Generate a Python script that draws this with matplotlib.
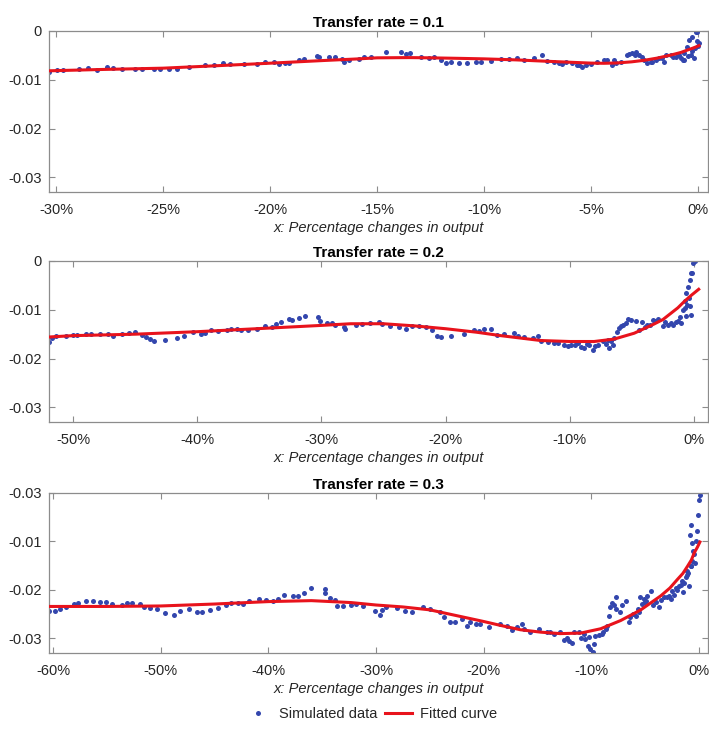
import matplotlib
matplotlib.use("Agg")
import matplotlib.pyplot as plt
from matplotlib.ticker import FuncFormatter

plt.rcParams['font.family'] = ['Liberation Sans', 'DejaVu Sans']

# ---------------- data (x in %, y values) ----------------
titles = ["Transfer rate = 0.1", "Transfer rate = 0.2", "Transfer rate = 0.3"]

# Panel 1 simulated data
x1 = [-30.33, -29.97, -29.66, -28.95, -28.49, -28.10, -27.63, -27.32, -26.93, -26.30,
      -25.99, -25.44, -25.13, -24.74, -24.35, -23.81, -23.03, -22.64, -22.20, -21.86,
      -21.23, -20.61, -20.22, -19.83, -19.59, -19.28, -19.13, -18.66, -18.42, -17.80,
      -17.72, -17.25, -16.94, -16.63, -16.55, -16.32, -15.85,
      -15.61, -15.30, -14.60, -13.89, -13.66, -13.46, -12.96, -12.57, -12.34, -12.02,
      -11.79, -11.56, -11.17, -10.78, -10.39, -10.16, -9.69, -9.22, -8.83, -8.44,
      -8.13, -7.66, -7.27, -7.04, -6.73, -6.50, -6.18, -5.87, -5.64, -5.40,
      -5.25, -5.02, -4.70, -4.24, -4.00, -3.85, -3.61, -3.30, -3.07, -2.91,
      -2.76, -2.60, -2.37, -2.13, -1.82, -1.51, -1.28, -1.04, -0.81, -0.65,
      -0.50, -0.42, -0.26, -0.11, -0.03, 0.05, -0.19, -0.34, -0.65, -1.59,
      -2.52, -3.93, -3.20, -2.95, -1.95, -1.70, -1.15, -0.90, -0.30, -0.15,
      -0.05, 0.02, -0.45, -0.70, -2.20, -4.40, -5.55, -6.35]
y1 = [-0.00844, -0.00796, -0.00796, -0.00782, -0.00762, -0.00796, -0.00741, -0.00762, -0.00782, -0.00782,
      -0.00782, -0.00782, -0.00776, -0.00776, -0.00776, -0.00741, -0.00707, -0.00694, -0.00646, -0.00680,
      -0.00680, -0.00673, -0.00639, -0.00639, -0.00680, -0.00660, -0.00646, -0.00592, -0.00571, -0.00503,
      -0.00524, -0.00537, -0.00537, -0.00571, -0.00639, -0.00592, -0.00571,
      -0.00537, -0.00524, -0.00435, -0.00435, -0.00469, -0.00456, -0.00537, -0.00558, -0.00524, -0.00592,
      -0.00646, -0.00626, -0.00646, -0.00660, -0.00626, -0.00626, -0.00605, -0.00578, -0.00578, -0.00558,
      -0.00592, -0.00558, -0.00490, -0.00605, -0.00626, -0.00646, -0.00626, -0.00660, -0.00694, -0.00728,
      -0.00694, -0.00673, -0.00626, -0.00592, -0.00694, -0.00660, -0.00626, -0.00490, -0.00456, -0.00422,
      -0.00490, -0.00524, -0.00660, -0.00626, -0.00558, -0.00490, -0.00490, -0.00524, -0.00558, -0.00456,
      -0.00320, -0.00184, -0.00116, -0.00027, -0.00014, -0.00252, -0.00558, -0.00490, -0.00592, -0.00626,
      -0.00592, -0.00592, -0.00470, -0.00500, -0.00600, -0.00560, -0.00540, -0.00500, -0.00420, -0.00350,
      -0.00200, -0.00300, -0.00520, -0.00600, -0.00640, -0.00600, -0.00700, -0.00680]

# Panel 1 fitted curve
fx1 = [-30.33, -28.0, -25.0, -22.5, -20.0, -17.5, -15.85, -15.0, -13.5, -12.5,
       -11.0, -10.0, -8.5, -7.5, -6.0, -5.0, -4.4, -3.77, -3.1, -2.5,
       -1.9, -1.28, -0.8, -0.5, -0.2, 0.05]
fy1 = [-0.00816, -0.00790, -0.00762, -0.00712, -0.00660, -0.00605, -0.00571, -0.00550, -0.00545, -0.00550,
       -0.00562, -0.00571, -0.00592, -0.00612, -0.00640, -0.00658, -0.00662, -0.00655, -0.00632, -0.00600,
       -0.00555, -0.00495, -0.00440, -0.00392, -0.00345, -0.00300]

# Panel 2 simulated data
x2 = [-51.96, -51.67, -51.40, -50.54, -50.00, -49.68, -48.98, -48.52, -47.85, -47.17,
      -46.82, -46.10, -45.48, -45.02, -44.48, -44.13, -43.81, -43.49, -42.60, -41.66,
      -41.04, -40.36, -39.69, -39.37, -38.91, -38.29, -37.62, -37.27, -36.76, -36.49,
      -35.95, -35.20, -34.52, -33.98, -33.63, -33.23, -32.64, -32.37, -31.83, -31.29,
      -30.30, -30.08, -29.54, -29.14, -28.87, -28.20, -28.12, -27.25,
      -26.73, -26.06, -25.38, -25.11, -24.44, -23.77, -23.23, -22.69, -22.15, -21.61,
      -21.08, -20.73, -20.40, -19.60, -18.52, -17.71, -17.31, -16.90, -16.37, -15.83,
      -15.29, -14.48, -14.21, -13.67, -13.00, -12.60, -12.33, -11.79, -10.98, -10.17,
      -9.91, -9.37, -8.83, -8.43, -8.16, -7.75, -7.35, -6.94, -6.81, -6.54,
      -6.41, -6.00, -5.73, -5.33, -5.06, -4.66, -4.39, -3.98, -3.58, -3.31,
      -2.91, -2.50, -2.10, -1.70, -1.29, -1.02, -0.89, -0.75, -0.62, -0.48,
      -0.35, -0.22, -0.08, 0.05, -0.62, -0.35, -0.22, -0.75, -1.45, -1.85,
      -2.30, -3.10, -3.80, -4.20, -5.50, -5.90, -6.20, -6.70, -7.10, -8.00,
      -8.60, -9.10, -9.60, -10.50, -11.30, -0.55, -0.40, -0.15, -1.15]
y2 = [-0.01660, -0.01578, -0.01530, -0.01530, -0.01510, -0.01524, -0.01490, -0.01490, -0.01490, -0.01490,
      -0.01544, -0.01497, -0.01476, -0.01463, -0.01510, -0.01558, -0.01599, -0.01646, -0.01612, -0.01578,
      -0.01530, -0.01456, -0.01490, -0.01476, -0.01422, -0.01442, -0.01408, -0.01388, -0.01388, -0.01422,
      -0.01408, -0.01388, -0.01340, -0.01354, -0.01286, -0.01252, -0.01190, -0.01218, -0.01170, -0.01136,
      -0.01150, -0.01224, -0.01272, -0.01272, -0.01306, -0.01354, -0.01395, -0.01306,
      -0.01286, -0.01272, -0.01252, -0.01293, -0.01340, -0.01360, -0.01388, -0.01340, -0.01327, -0.01354,
      -0.01408, -0.01530, -0.01558, -0.01530, -0.01490, -0.01408, -0.01442, -0.01388, -0.01395, -0.01510,
      -0.01490, -0.01476, -0.01530, -0.01558, -0.01578, -0.01544, -0.01646, -0.01660, -0.01680, -0.01748,
      -0.01714, -0.01680, -0.01782, -0.01714, -0.01816, -0.01714, -0.01646, -0.01612, -0.01782, -0.01714,
      -0.01578, -0.01374, -0.01306, -0.01190, -0.01204, -0.01238, -0.01408, -0.01354, -0.01306, -0.01204,
      -0.01190, -0.01340, -0.01306, -0.01306, -0.01238, -0.01272, -0.01000, -0.00830, -0.00660, -0.00524,
      -0.00388, -0.00252, -0.00048, 0.00000, -0.01136, -0.00932, -0.01100, -0.00966, -0.01250, -0.01280,
      -0.01260, -0.01230, -0.01320, -0.01250, -0.01280, -0.01330, -0.01450, -0.01650, -0.01700, -0.01750,
      -0.01700, -0.01760, -0.01730, -0.01720, -0.01690, -0.00900, -0.00750, -0.00250, -0.01150]

# Panel 2 fitted curve
fx2 = [-51.96, -50.0, -45.0, -40.0, -35.0, -30.0, -27.65, -25.0, -22.5, -20.0,
       -17.5, -15.56, -13.95, -12.34, -10.0, -8.04, -6.42, -4.81, -3.20, -2.5,
       -1.85, -1.3, -0.78, -0.2, 0.38]
fy2 = [-0.01558, -0.01530, -0.01500, -0.01449, -0.01385, -0.01320, -0.01286, -0.01286, -0.01330, -0.01388,
       -0.01460, -0.01530, -0.01580, -0.01630, -0.01650, -0.01650, -0.01600, -0.01480, -0.01290, -0.01200,
       -0.01070, -0.00960, -0.00830, -0.00700, -0.00580]

# Panel 3 simulated data
x3 = [-60.40, -59.84, -59.38, -58.75, -58.07, -57.66, -56.95, -56.32, -55.64, -55.08,
      -54.55, -53.61, -53.15, -52.68, -51.90, -51.59, -51.03, -50.34, -49.56, -48.79,
      -48.16, -47.38, -46.60, -46.14, -45.45, -44.64, -43.96, -43.49, -42.80, -42.31,
      -41.78, -40.84, -40.22, -39.60, -39.07, -38.50, -37.73, -37.26, -36.64, -36.01,
      -34.77, -34.77, -34.30, -33.83, -33.58, -33.05, -32.33, -31.81,
      -31.22, -30.08, -29.67, -29.46, -29.05, -28.06, -27.29, -26.67, -25.64, -24.96,
      -24.09, -23.72, -23.10, -22.64, -22.02, -21.55, -21.24, -20.68, -20.31, -19.53,
      -18.45, -17.83, -17.36, -16.90, -16.43, -16.28, -15.66, -14.88, -14.11, -13.80,
      -13.49, -12.87, -12.56, -12.09, -11.78, -11.63, -11.16, -10.70, -10.54, -10.33,
      -10.08, -9.86, -9.77, -9.61, -9.30, -8.90, -8.68, -8.37, -8.22, -8.06,
      -7.75, -7.66, -7.35, -7.13, -6.82, -6.51, -6.36, -5.89, -5.67, -5.43,
      -5.27, -5.12, -4.81, -4.50, -4.03, -3.72, -3.26, -2.79, -2.48, -2.17,
      -1.86, -1.55, -1.24, -1.09, -0.93, -0.78, -0.62, -0.47, -0.31, -0.22,
      -0.09, 0.00, 0.09, -0.84, -0.78, -0.62, -0.40, -1.15, -1.46, -2.64,
      -4.96, -0.55, -0.70, -1.00, -1.35, -1.70, -2.00, -2.30, -3.00, -3.50,
      -4.30, -5.00, -5.60, -6.10, -7.90, -8.50, -9.00, -10.20, -11.00, -12.30]
y3 = [-0.0244, -0.0243, -0.0239, -0.0236, -0.0229, -0.0227, -0.0222, -0.0222, -0.0225, -0.0225,
      -0.0229, -0.0230, -0.0226, -0.0227, -0.0229, -0.0236, -0.0237, -0.0239, -0.0248, -0.0251,
      -0.0243, -0.0240, -0.0245, -0.0245, -0.0242, -0.0237, -0.0230, -0.0226, -0.0227, -0.0228,
      -0.0223, -0.0219, -0.0220, -0.0223, -0.0219, -0.0210, -0.0212, -0.0212, -0.0207, -0.0196,
      -0.0198, -0.0207, -0.0217, -0.0221, -0.0234, -0.0234, -0.0230, -0.0228,
      -0.0234, -0.0243, -0.0251, -0.0241, -0.0236, -0.0238, -0.0243, -0.0245, -0.0236, -0.0239,
      -0.0245, -0.0256, -0.0267, -0.0267, -0.0260, -0.0275, -0.0267, -0.0271, -0.0271, -0.0277,
      -0.0271, -0.0275, -0.0282, -0.0277, -0.0271, -0.0280, -0.0287, -0.0281, -0.0287, -0.0287,
      -0.0290, -0.0287, -0.0303, -0.0306, -0.0310, -0.0287, -0.0287, -0.0290, -0.0301, -0.0316,
      -0.0321, -0.0328, -0.0312, -0.0294, -0.0292, -0.0287, -0.0280, -0.0253, -0.0236, -0.0226,
      -0.0239, -0.0215, -0.0246, -0.0232, -0.0222, -0.0267, -0.0256, -0.0253, -0.0239, -0.0215,
      -0.0229, -0.0219, -0.0212, -0.0202, -0.0225, -0.0236, -0.0215, -0.0212, -0.0203, -0.0195,
      -0.0192, -0.0181, -0.0174, -0.0161, -0.0192, -0.0151, -0.0140, -0.0126, -0.0099, -0.0079,
      -0.0045, -0.0014, -0.0004, -0.0086, -0.0067, -0.0103, -0.0144, -0.0169, -0.0205, -0.0219,
      -0.0222, -0.0120, -0.0150, -0.0165, -0.0185, -0.0190, -0.0200, -0.0210, -0.0215, -0.0220,
      -0.0230, -0.0225, -0.0245, -0.0250, -0.0230, -0.0275, -0.0290, -0.0298, -0.0300, -0.0300]

# Panel 3 fitted curve
fx3 = [-60.4, -55.0, -50.0, -45.0, -40.0, -36.0, -32.3, -30.0, -27.5, -25.0,
       -22.5, -20.0, -18.45, -16.6, -14.7, -12.9, -11.0, -9.13, -7.27, -5.40,
       -3.54, -2.7, -1.99, -1.5, -1.06, -0.70, -0.43, -0.15, 0.09]
fy3 = [-0.0234, -0.0234, -0.0233, -0.0229, -0.0224, -0.0222, -0.0226, -0.0231, -0.0235, -0.0241,
       -0.0253, -0.0265, -0.0273, -0.0282, -0.0287, -0.0290, -0.0289, -0.0280, -0.0263, -0.0241,
       -0.0212, -0.0196, -0.0178, -0.0166, -0.0151, -0.0138, -0.0123, -0.0112, -0.0101]

xlims = [(-30.33, 0.47), (-51.94, 1.13), (-60.37, 0.84)]
xticks = [[-30, -25, -20, -15, -10, -5, 0],
          [-50, -40, -30, -20, -10, 0],
          [-60, -50, -40, -30, -20, -10, 0]]
yticks = [0, -0.01, -0.02, -0.03]
ytick_labels = [["0", "-0.01", "-0.02", "-0.03"],
                ["0", "-0.01", "-0.02", "-0.03"],
                ["-0.03", "-0.01", "-0.02", "-0.03"]]
xlabel = "x: Percentage changes in output"
legend_labels = ["Simulated data", "Fitted curve"]

# ---------------- plotting ----------------
dot_color = '#3346ad'
line_color = '#e8131c'
axis_color = '#8c8c8c'
text_color = '#262626'

fig = plt.figure(figsize=(7.09, 7.29), dpi=100)
left, width = 49 / 709, 659 / 709
tops_bottoms = [(31, 192), (261, 422), (493, 653)]
series = [(x1, y1, fx1, fy1), (x2, y2, fx2, fy2), (x3, y3, fx3, fy3)]

handles = None
for i, ((top, bot), (xs, ys, fx, fy)) in enumerate(zip(tops_bottoms, series)):
    ax = fig.add_axes([left, 1 - bot / 729, width, (bot - top) / 729])
    sc, = ax.plot(xs, ys, linestyle='none', marker='o', markersize=3.6,
                  color=dot_color, markeredgewidth=0, zorder=2)
    ln, = ax.plot(fx, fy, color=line_color, linewidth=2.2, zorder=3,
                  solid_joinstyle='round')
    if handles is None:
        handles = [sc, ln]
    ax.set_xlim(*xlims[i])
    ax.set_ylim(-0.033, 0.0)
    ax.set_xticks(xticks[i])
    ax.xaxis.set_major_formatter(FuncFormatter(lambda v, p: f"{v:.0f}%".replace("-0%", "0%")))
    ax.set_yticks(yticks)
    ax.set_yticklabels(ytick_labels[i])
    ax.tick_params(direction='in', top=True, right=True, length=4.5, width=0.8,
                   color=axis_color, labelcolor=text_color, labelsize=10.5)
    ax.tick_params(axis='y', pad=5)
    ax.tick_params(axis='x', pad=8)
    for s in ax.spines.values():
        s.set_color(axis_color)
        s.set_linewidth(0.9)
    ax.set_title(titles[i], fontsize=11, fontweight='bold', color='black', pad=3)
    ax.set_xlabel(xlabel, fontsize=10.5, style='italic', color=text_color, labelpad=3)

fig.legend(handles, legend_labels, loc='center', bbox_to_anchor=(0.523, 1 - 714 / 729),
           ncol=2, frameon=False, fontsize=10.5, handlelength=1.85, columnspacing=0.5,
           handletextpad=0.55, markerscale=1.0, labelcolor=text_color)

fig.savefig("out.png", dpi=100)
